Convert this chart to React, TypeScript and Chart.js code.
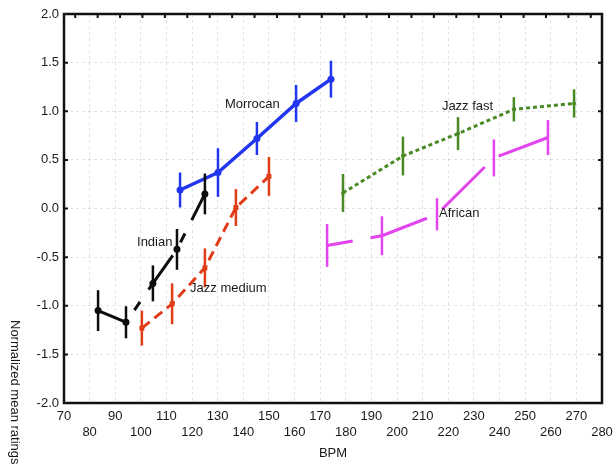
import React, { useEffect, useRef } from 'react';
import { Chart, registerables } from 'chart.js';

Chart.register(...registerables);

const FONT = '"Liberation Sans", Arial, Helvetica, sans-serif';

// ---- data ----
const morrocanBpm = [115.3, 130.1, 145.3, 160.6, 174.2];
const morrocanMean = [0.19, 0.37, 0.72, 1.08, 1.33];
const morrocanErr = [0.18, 0.25, 0.17, 0.19, 0.19];

const indianBpm = [83.3, 94.2, 104.7, 114.1, 125.0];
const indianMean = [-1.05, -1.17, -0.77, -0.42, 0.15];
const indianErr = [0.21, 0.165, 0.185, 0.21, 0.21];

const jazzMediumBpm = [100.4, 112.2, 125.0, 137.1, 150.0];
const jazzMediumMean = [-1.23, -0.98, -0.61, 0.01, 0.33];
const jazzMediumErr = [0.18, 0.21, 0.2, 0.19, 0.2];

const jazzFastBpm = [178.9, 202.3, 223.8, 245.6, 269.1];
const jazzFastMean = [0.16, 0.54, 0.77, 1.02, 1.08];
const jazzFastErr = [0.195, 0.2, 0.17, 0.125, 0.145];

const africanBpm = [172.7, 194.1, 215.6, 237.8, 258.9];
const africanMean = [-0.38, -0.28, -0.06, 0.52, 0.73];
const africanErr = [0.22, 0.2, 0.165, 0.19, 0.18];

const xMin = 70;
const xMax = 280;
const xStep = 10;
const yMin = -2;
const yMax = 2;
const yStep = 0.5;

const xTitle = 'BPM';
const yTitle = 'Normalized mean ratings of';

// series labels placed in the plot (data coordinates of the text's left/middle)
const seriesLabelText = ['Morrocan', 'Indian', 'Jazz medium', 'Jazz fast', 'African'];
const seriesLabelX = [132.8, 98.5, 119.2, 217.5, 216.4];
const seriesLabelY = [1.075, -0.344, -0.817, 1.054, -0.046];

const toPoints = (xs: number[], ys: number[]) => xs.map((x, i) => ({ x, y: ys[i] }));

const errorBarPlugin = {
  id: 'errorBars',
  afterDatasetsDraw(chart: any) {
    const { ctx, scales } = chart;
    const xs = scales.x;
    const ys = scales.y;
    chart.data.datasets.forEach((ds: any) => {
      if (!ds.errors) return;
      ctx.save();
      ctx.strokeStyle = ds.borderColor;
      ctx.lineWidth = ds.errorWidth || 2.5;
      ctx.setLineDash([]);
      ds.data.forEach((p: any, i: number) => {
        const e = ds.errors[i];
        const px = xs.getPixelForValue(p.x);
        ctx.beginPath();
        ctx.moveTo(px, ys.getPixelForValue(p.y - e));
        ctx.lineTo(px, ys.getPixelForValue(p.y + e));
        ctx.stroke();
      });
      ctx.restore();
    });
  },
};

const framePlugin = {
  id: 'frame',
  afterDraw(chart: any) {
    const { ctx, chartArea, scales } = chart;
    const { left, right, top, bottom } = chartArea;
    ctx.save();
    // series labels
    ctx.fillStyle = '#1a1a1a';
    ctx.font = `13px ${FONT}`;
    ctx.textAlign = 'left';
    ctx.textBaseline = 'middle';
    seriesLabelText.forEach((t, i) => {
      ctx.fillText(t, scales.x.getPixelForValue(seriesLabelX[i]), scales.y.getPixelForValue(seriesLabelY[i]));
    });
    // frame
    ctx.strokeStyle = '#111';
    ctx.lineWidth = 2.5;
    ctx.setLineDash([]);
    ctx.strokeRect(left, top, right - left, bottom - top);
    // inward tick marks
    ctx.lineWidth = 2;
    const tl = 3;
    const n = 24;
    for (let i = 0; i < n; i++) {
      const x = left + ((i + 0.5) * (right - left)) / n;
      ctx.beginPath();
      ctx.moveTo(x, top);
      ctx.lineTo(x, top + tl + 1);
      ctx.stroke();
    }
    scales.y.ticks.forEach((t: any) => {
      const y = scales.y.getPixelForValue(t.value);
      ctx.beginPath();
      ctx.moveTo(left, y);
      ctx.lineTo(left + tl + 1, y);
      ctx.moveTo(right, y);
      ctx.lineTo(right - tl - 1, y);
      ctx.stroke();
    });
    // y title (rotated clockwise, reading top to bottom)
    ctx.translate(15, 320);
    ctx.rotate(Math.PI / 2);
    ctx.fillStyle = '#1a1a1a';
    ctx.textAlign = 'left';
    ctx.textBaseline = 'middle';
    ctx.fillText(yTitle, 0, 0);
    ctx.restore();
  },
};

export default function App() {
  const ref = useRef<HTMLCanvasElement>(null);
  useEffect(() => {
    const BLUE = '#2236f0';
    const BLACK = '#0d0d0d';
    const RED = '#e03c18';
    const GREEN = '#4a8a25';
    const MAGENTA = '#e244ee';
    const chart = new Chart(ref.current as HTMLCanvasElement, {
      type: 'line',
      data: {
        datasets: [
          {
            label: 'Morrocan',
            data: toPoints(morrocanBpm, morrocanMean),
            errors: morrocanErr,
            borderColor: BLUE,
            backgroundColor: BLUE,
            borderWidth: 3.5,
            pointRadius: 3.5,
            pointBorderWidth: 0,
            tension: 0,
          } as any,
          {
            label: 'Indian',
            data: toPoints(indianBpm, indianMean),
            errors: indianErr,
            borderColor: BLACK,
            backgroundColor: BLACK,
            borderWidth: 3,
            borderDash: [42, 15, 10, 15],
            borderDashOffset: 12,
            pointRadius: 3.5,
            pointBorderWidth: 0,
            tension: 0,
          } as any,
          {
            label: 'Jazz medium',
            data: toPoints(jazzMediumBpm, jazzMediumMean),
            errors: jazzMediumErr,
            borderColor: RED,
            backgroundColor: RED,
            borderWidth: 3,
            borderDash: [10, 6],
            pointStyle: 'rect',
            pointRadius: 3.5,
            pointBorderWidth: 0,
            tension: 0,
          } as any,
          {
            label: 'Jazz fast',
            data: toPoints(jazzFastBpm, jazzFastMean),
            errors: jazzFastErr,
            borderColor: GREEN,
            backgroundColor: GREEN,
            borderWidth: 3,
            borderDash: [4, 3],
            pointRadius: 2,
            pointBorderWidth: 0,
            tension: 0,
          } as any,
          {
            label: 'African',
            data: toPoints(africanBpm, africanMean),
            errors: africanErr,
            borderColor: MAGENTA,
            backgroundColor: MAGENTA,
            borderWidth: 3,
            borderDash: [60, 18],
            borderDashOffset: 34,
            pointRadius: 0,
            tension: 0,
          } as any,
        ],
      },
      options: {
        animation: false,
        responsive: false,
        devicePixelRatio: 1,
        layout: { padding: { top: 14, right: 12, left: 0, bottom: 0 } },
        plugins: { legend: { display: false }, tooltip: { enabled: false } },
        scales: {
          x: {
            type: 'linear',
            min: xMin,
            max: xMax,
            ticks: {
              stepSize: xStep,
              autoSkip: false,
              maxRotation: 0,
              minRotation: 0,
              padding: 6,
              color: '#1a1a1a',
              font: { family: FONT, size: 13 },
              callback: (v: any, i: number) => (i % 2 === 0 ? [String(v), ''] : ['', String(v)]),
            },
            grid: { color: 'rgba(0,0,0,0.11)', drawTicks: false, lineWidth: 1 },
            border: { display: false, dash: [3, 3] },
            title: {
              display: true,
              text: xTitle,
              color: '#1a1a1a',
              font: { family: FONT, size: 13 },
              padding: { top: 0, bottom: 7 },
            },
            afterFit: (s: any) => {
              s.height = 65;
              s.paddingLeft = 0;
              s.paddingRight = 0;
            },
          },
          y: {
            type: 'linear',
            min: yMin,
            max: yMax,
            ticks: {
              stepSize: yStep,
              padding: 5,
              color: '#1a1a1a',
              font: { family: FONT, size: 13 },
              callback: (v: any) => Number(v).toFixed(1),
            },
            grid: { color: 'rgba(0,0,0,0.11)', drawTicks: false, lineWidth: 1 },
            border: { display: false, dash: [3, 3] },
            afterFit: (s: any) => {
              s.width = 64;
              s.paddingTop = 0;
              s.paddingBottom = 0;
            },
          },
        },
      } as any,
      plugins: [errorBarPlugin, framePlugin],
    });
    return () => chart.destroy();
  }, []);
  return (
    <div style={{ position: 'fixed', left: 0, top: 0, width: 614, height: 468, background: '#fff' }}>
      <canvas ref={ref} width={614} height={468} style={{ display: 'block', width: 614, height: 468 }} />
    </div>
  );
}
